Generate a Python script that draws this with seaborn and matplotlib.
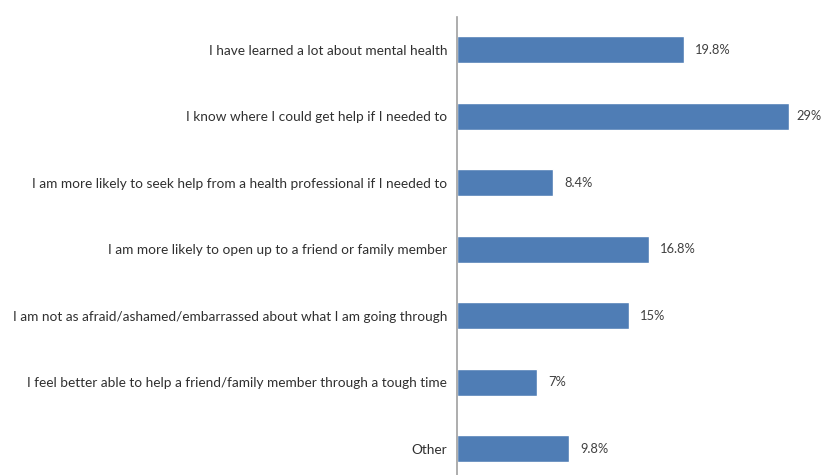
import matplotlib
matplotlib.use("Agg")
import matplotlib.pyplot as plt
import seaborn as sns
import pandas as pd

categories = [
    "I have learned a lot about mental health",
    "I know where I could get help if I needed to",
    "I am more likely to seek help from a health professional if I needed to",
    "I am more likely to open up to a friend or family member",
    "I am not as afraid/ashamed/embarrassed about what I am going through",
    "I feel better able to help a friend/family member through a tough time",
    "Other",
]
values = [19.8, 29, 8.4, 16.8, 15, 7, 9.8]
value_labels = ["19.8%", "29%", "8.4%", "16.8%", "15%", "7%", "9.8%"]

df = pd.DataFrame({"category": categories, "value": values})

sns.set_theme(style="white")
plt.rcParams["font.family"] = ["Lato", "DejaVu Sans"]

W, H = 822, 475
fig = plt.figure(figsize=(W / 100, H / 100), dpi=100)
# axes spans from the value axis line to the right edge; bottom slot runs past the figure
left_px, right_px, top_px, bottom_px = 457, 822, 16.5, 482
ax = fig.add_axes([left_px / W, (H - bottom_px) / H,
                   (right_px - left_px) / W, (bottom_px - top_px) / H])

sns.barplot(data=df, y="category", x="value", orient="h", color="#4F7DB5",
            saturation=1, width=0.41, ax=ax)

xmax = (right_px - left_px) / 11.45
ax.set_xlim(0, xmax)
ax.set_ylim(6.5, -0.5)

# value labels sit just past each bar end; the longest bar gets a tighter gap
for i, (v, lab) in enumerate(zip(values, value_labels)):
    gap = 7 if v == max(values) else 11
    ax.annotate(lab, (v, i), xytext=(gap, 0), textcoords="offset pixels",
                va="center", ha="left", fontsize=9.3, color="#404040")

ax.set_xlabel("")
ax.set_ylabel("")
ax.set_xticks([])
ax.tick_params(axis="y", length=0, pad=10 * 0.72, labelsize=9.8, labelcolor="#303030")
for s in ["top", "right", "bottom"]:
    ax.spines[s].set_visible(False)
ax.spines["left"].set_color("#A0A0A0")
ax.spines["left"].set_linewidth(1.2)

fig.savefig("out.png", dpi=100)
